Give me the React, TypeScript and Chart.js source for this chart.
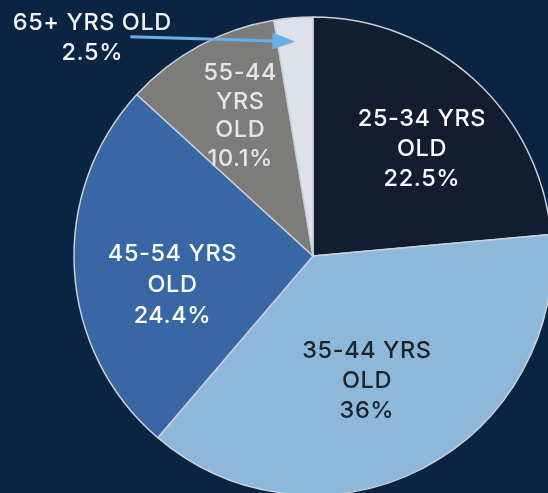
import React, { useEffect, useRef } from "react";
import { Chart, registerables } from "chart.js";

Chart.register(...registerables);

const categories = ["25-34 YRS OLD", "35-44 YRS OLD", "45-54 YRS OLD", "55-44 YRS OLD", "65+ YRS OLD"];
const values = [22.5, 36, 24.4, 10.1, 2.5];
const valueLabels = ["22.5%", "36%", "24.4%", "10.1%", "2.5%"];
const labelLines = [
  ["25-34 YRS", "OLD", "22.5%"],
  ["35-44 YRS", "OLD", "36%"],
  ["45-54 YRS", "OLD", "24.4%"],
  ["55-44", "YRS", "OLD", "10.1%"],
  ["65+ YRS OLD", "2.5%"],
];
const sliceColors = ["#121d2f", "#8db8dc", "#3867a6", "#7c7c7b", "#dde2ea"];
const textColors = ["#ffffff", "#1f2226", "#ffffff", "#e4e6ea", "#f2f4f7"];

const BG = "#0a2441";
const FONT = "Inter, 'Open Sans', sans-serif";

// per-slice label placement: [radius fraction, angle offset (deg), line height]
const placement: Array<[number, number, number]> = [
  [0.64, 3, 30],
  [0.57, 4, 30],
  [0.6, -8, 31],
  [0.66, 1, 28.5],
];

const labelPlugin = {
  id: "sliceLabels",
  afterDraw(chart: any) {
    const ctx = chart.ctx;
    const meta = chart.getDatasetMeta(0);
    ctx.save();
    ctx.font = `500 23.5px ${FONT}`;
    try {
      (ctx as any).letterSpacing = "0.6px";
    } catch (e) {}
    ctx.textAlign = "center";
    ctx.textBaseline = "middle";
    meta.data.forEach((arc: any, i: number) => {
      const p = arc.getProps(["x", "y", "startAngle", "endAngle", "outerRadius"], true);
      const mid = (p.startAngle + p.endAngle) / 2;
      if (i < placement.length) {
        const [f, off, lh] = placement[i];
        const a = mid + (off * Math.PI) / 180;
        const cx = p.x + Math.cos(a) * p.outerRadius * f;
        const cy = p.y + Math.sin(a) * p.outerRadius * f;
        const lines = labelLines[i];
        ctx.fillStyle = textColors[i];
        lines.forEach((t, k) => {
          ctx.fillText(t, cx, cy + (k - (lines.length - 1) / 2) * lh);
        });
      } else {
        // callout with arrow for the small slice
        const tipX = p.x + Math.cos(mid) * p.outerRadius * 0.9;
        const tipY = p.y + Math.sin(mid) * p.outerRadius * 0.9;
        const tailX = tipX - 165;
        const tailY = tipY - 5;
        ctx.strokeStyle = "#6aaeea";
        ctx.fillStyle = "#6aaeea";
        ctx.lineWidth = 3;
        ctx.beginPath();
        ctx.moveTo(tailX, tailY);
        ctx.lineTo(tipX - 20, tipY - 0.6);
        ctx.stroke();
        const ang = Math.atan2(tipY - tailY, tipX - tailX);
        ctx.beginPath();
        ctx.moveTo(tipX, tipY);
        ctx.lineTo(tipX - 23 * Math.cos(ang) + 8.5 * Math.sin(ang), tipY - 23 * Math.sin(ang) - 8.5 * Math.cos(ang));
        ctx.lineTo(tipX - 23 * Math.cos(ang) - 8.5 * Math.sin(ang), tipY - 23 * Math.sin(ang) + 8.5 * Math.cos(ang));
        ctx.closePath();
        ctx.fill();
        const lines = labelLines[i];
        ctx.fillStyle = textColors[i];
        const lx = tailX - 38;
        lines.forEach((t, k) => {
          ctx.fillText(t, lx, tailY - 14 + k * 30);
        });
      }
    });
    ctx.restore();
  },
};

export default function App() {
  const ref = useRef<HTMLCanvasElement | null>(null);
  useEffect(() => {
    document.body.style.margin = "0";
    document.body.style.background = BG;
    const chart = new Chart(ref.current as HTMLCanvasElement, {
      type: "pie",
      data: {
        labels: categories,
        datasets: [
          {
            data: values,
            backgroundColor: sliceColors,
            borderColor: "#c9d0da",
            borderWidth: 1.5,
          },
        ],
      },
      options: {
        animation: false,
        responsive: false,
        radius: 239,
        layout: { padding: { left: 78, top: 19, right: 0, bottom: 0 } },
        plugins: {
          legend: { display: false },
          tooltip: { enabled: false },
          title: { display: false },
        },
      } as any,
      plugins: [labelPlugin],
    });
    return () => chart.destroy();
  }, []);
  return (
    <div style={{ position: "fixed", left: 0, top: 0, width: 548, height: 493, background: BG, overflow: "hidden" }}>
      <canvas ref={ref} width={548} height={493} style={{ display: "block" }} aria-label={valueLabels.join(", ")} />
    </div>
  );
}
